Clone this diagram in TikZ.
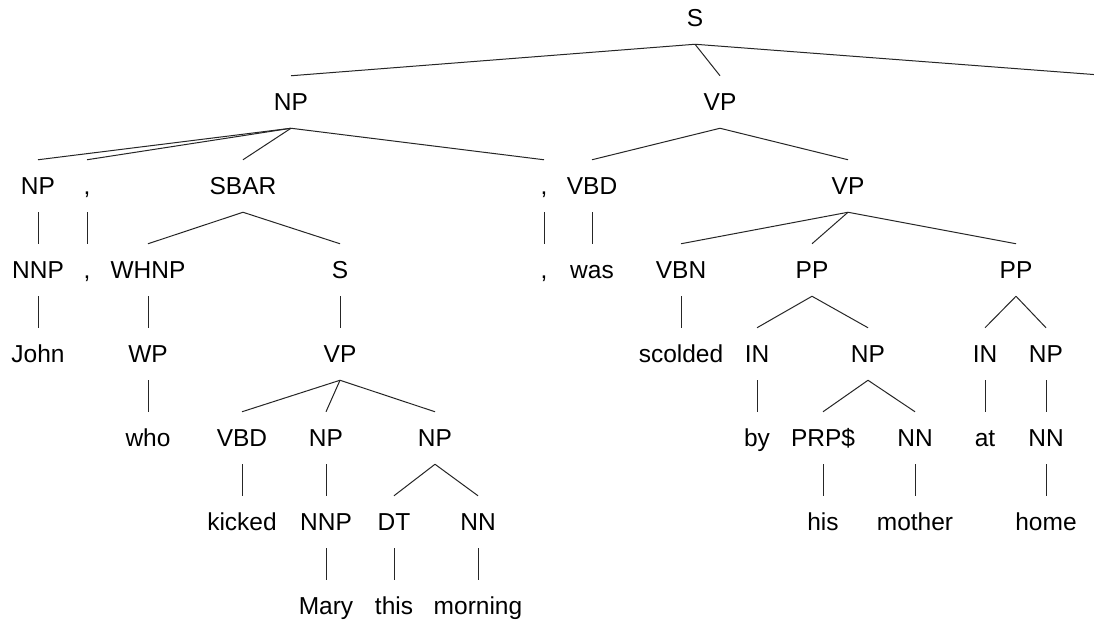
\documentclass[tikz,border=0pt]{standalone}
\usepackage{fontspec}
\setmainfont{Liberation Sans}
\begin{document}
\begin{tikzpicture}[x=1pt,y=-1pt,
  lab/.style={anchor=base, inner sep=0pt, text height=17.5pt, text depth=0pt,
              outer ysep=17.5pt, font=\fontsize{24.5}{29}\selectfont, text=black},
  br/.style={line width=1pt, draw=black!85}]
\fill[white] (0,0) rectangle (1094,622);
\useasboundingbox (0,0) rectangle (1094,622);
\clip (0,0) rectangle (1094,622);
% row 0
\node[lab] (S) at (695,26.75) {S};
\coordinate (Sr) at (1100,75);
% row 1
\node[lab] (NP1) at (291,110.75) {NP};
\node[lab] (VP1) at (720,110.75) {VP};
% row 2
\node[lab] (NPa) at (38,194.75) {NP};
\node[lab] (c1) at (87,194.75) {,};
\node[lab] (SBAR) at (243,194.75) {SBAR};
\node[lab] (c2) at (544,194.75) {,};
\node[lab] (VBD1) at (592,194.75) {VBD};
\node[lab] (VP2) at (848,194.75) {VP};
% row 3
\node[lab] (NNP1) at (38,278.75) {NNP};
\node[lab] (c1b) at (87,278.75) {,};
\node[lab] (WHNP) at (148,278.75) {WHNP};
\node[lab] (S2) at (340,278.75) {S};
\node[lab] (c2b) at (544,278.75) {,};
\node[lab] (was) at (592,278.75) {was};
\node[lab] (VBN) at (681,278.75) {VBN};
\node[lab] (PPa) at (812,278.75) {PP};
\node[lab] (PPb) at (1016,278.75) {PP};
% row 4
\node[lab] (John) at (38,362.75) {John};
\node[lab] (WP) at (148,362.75) {WP};
\node[lab] (VP3) at (340,362.75) {VP};
\node[lab] (scolded) at (681,362.75) {scolded};
\node[lab] (INa) at (757,362.75) {IN};
\node[lab] (NPb) at (868,362.75) {NP};
\node[lab] (INb) at (985,362.75) {IN};
\node[lab] (NPc) at (1046,362.75) {NP};
% row 5
\node[lab] (who) at (148,446.75) {who};
\node[lab] (VBD2) at (242,446.75) {VBD};
\node[lab] (NPd) at (326,446.75) {NP};
\node[lab] (NPe) at (435,446.75) {NP};
\node[lab] (by) at (757,446.75) {by};
\node[lab] (PRP) at (823,446.75) {PRP\$};
\node[lab] (NNa) at (915,446.75) {NN};
\node[lab] (at) at (985,446.75) {at};
\node[lab] (NNb) at (1046,446.75) {NN};
% row 6
\node[lab] (kicked) at (242,530.75) {kicked};
\node[lab] (NNP2) at (326,530.75) {NNP};
\node[lab] (DT) at (394,530.75) {DT};
\node[lab] (NNc) at (478,530.75) {NN};
\node[lab] (his) at (823,530.75) {his};
\node[lab] (mother) at (915,530.75) {mother};
\node[lab] (home) at (1046,530.75) {home};
% row 7
\node[lab] (Mary) at (326,614.75) {Mary};
\node[lab] (this) at (394,614.75) {this};
\node[lab] (morning) at (478,614.75) {morning};
% edges
\draw[br] (S.south) -- (Sr);
\foreach \a/\b in {S/NP1,S/VP1,
  NP1/NPa,NP1/c1,NP1/SBAR,NP1/c2,VP1/VBD1,VP1/VP2,
  NPa/NNP1,c1/c1b,SBAR/WHNP,SBAR/S2,c2/c2b,VBD1/was,VP2/VBN,VP2/PPa,VP2/PPb,
  NNP1/John,WHNP/WP,S2/VP3,VBN/scolded,PPa/INa,PPa/NPb,PPb/INb,PPb/NPc,
  WP/who,VP3/VBD2,VP3/NPd,VP3/NPe,INa/by,NPb/PRP,NPb/NNa,INb/at,NPc/NNb,
  VBD2/kicked,NPd/NNP2,NPe/DT,NPe/NNc,PRP/his,NNa/mother,NNb/home,
  NNP2/Mary,DT/this,NNc/morning}
  \draw[br] (\a.south) -- (\b.north);
\end{tikzpicture}
\end{document}
